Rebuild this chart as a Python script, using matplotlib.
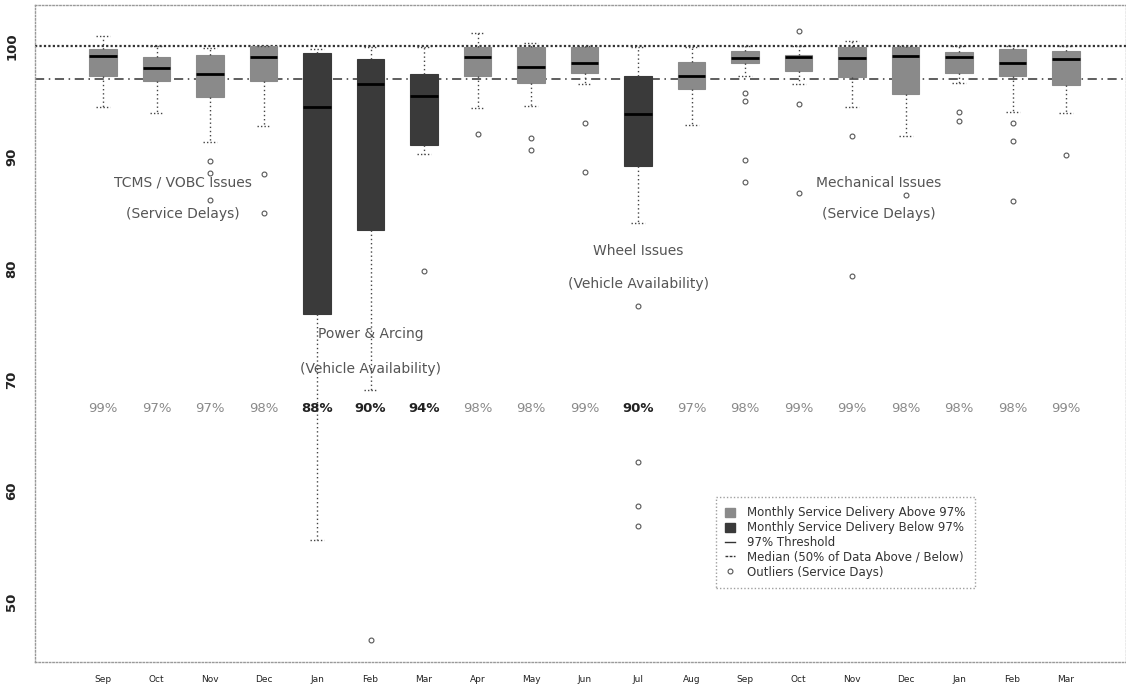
import matplotlib
matplotlib.use("Agg")
import matplotlib.pyplot as plt
from matplotlib.patches import Patch
from matplotlib.lines import Line2D

# Monthly service delivery distributions (% of scheduled service per day)
months = ["Sep", "Oct", "Nov", "Dec", "Jan", "Feb", "Mar", "Apr", "May", "Jun",
          "Jul", "Aug", "Sep", "Oct", "Nov", "Dec", "Jan", "Feb", "Mar"]
q1 = [97.3, 96.9, 95.4, 96.9, 75.9, 83.5, 91.1, 97.3, 96.7, 97.6,
      89.2, 96.1, 98.5, 97.8, 97.2, 95.7, 97.6, 97.3, 96.5]
median = [99.1, 98.0, 97.5, 99.0, 94.5, 96.6, 95.5, 99.0, 98.1, 98.5,
          93.9, 97.3, 98.9, 99.0, 98.9, 99.1, 99.0, 98.5, 98.8]
q3 = [99.7, 99.0, 99.2, 100.0, 99.4, 98.8, 97.5, 99.9, 99.9, 99.9,
      97.3, 98.6, 99.6, 99.2, 99.9, 99.9, 99.5, 99.7, 99.6]
whisker_low = [94.5, 94.0, 91.4, 92.8, 55.6, 69.1, 90.3, 94.4, 94.6, 96.6,
               84.1, 92.9, 97.3, 96.6, 94.5, 91.9, 96.7, 94.1, 94.0]
whisker_high = [100.9, 100.0, 99.8, 100.0, 99.7, 99.9, 99.9, 101.2, 100.3, 100.0,
                99.9, 99.9, 100.0, 100.0, 100.5, 100.0, 100.0, 100.0, 100.0]
outliers = [[], [], [89.7, 88.6, 86.2], [88.5, 85.0], [], [46.6], [79.8],
            [92.1], [91.7, 90.7], [93.1, 88.7], [76.6, 62.6, 58.6, 56.8], [],
            [95.8, 95.1, 89.8, 87.8], [101.4, 94.8, 86.8], [91.9, 79.3],
            [86.6], [94.1, 93.3], [93.1, 91.5, 86.1], [90.2]]
delivery_pct = [99, 97, 97, 98, 88, 90, 94, 98, 98, 99,
                90, 97, 98, 99, 99, 98, 98, 98, 99]
threshold = 97

light_fill = "#8a8a8a"
dark_fill = "#3a3a3a"

fig = plt.figure(figsize=(11.26, 6.90), dpi=100)
ax = fig.add_axes([35 / 1126, 28 / 690, 1091 / 1126, 657 / 690])

positions = list(range(1, len(months) + 1))
stats = []
for i in range(len(months)):
    stats.append(dict(med=median[i], q1=q1[i], q3=q3[i],
                      whislo=whisker_low[i], whishi=whisker_high[i],
                      fliers=outliers[i], label=months[i]))

parts = ax.bxp(stats, positions=positions, widths=0.52, patch_artist=True,
               showfliers=True,
               whiskerprops=dict(color="#444444", linestyle=(0, (1, 2)), linewidth=1.0),
               capprops=dict(color="#444444", linestyle=(0, (1, 1.5)), linewidth=1.0),
               medianprops=dict(color="black", linewidth=2.0),
               flierprops=dict(marker="o", markersize=3.5, markerfacecolor="none",
                               markeredgecolor="#555555", markeredgewidth=0.8))
for box, pct in zip(parts["boxes"], delivery_pct):
    fc = dark_fill if pct < threshold else light_fill
    box.set_facecolor(fc)
    box.set_edgecolor(fc)
    box.set_linewidth(0.8)

# Reference lines at 100% and at the 97% threshold
ax.axhline(100, color="#333333", linestyle=(0, (1, 1)), linewidth=1.6, zorder=1)
ax.axhline(threshold, color="#333333", linestyle=(0, (6, 3, 1, 3)), linewidth=1.1, zorder=1)

# Monthly delivery percentages
for x, pct in zip(positions, delivery_pct):
    below = pct < threshold
    ax.text(x, 67.4, f"{pct}%", ha="center", va="center", fontsize=9.5,
            color="#222222" if below else "#8a8a8a",
            fontweight="bold" if below else "normal")

# Incident annotations
note_color = "#555555"
note_size = 10
ax.text(2.5, 87.7, "TCMS / VOBC Issues", ha="center", va="center", fontsize=note_size, color=note_color)
ax.text(2.5, 84.9, "(Service Delays)", ha="center", va="center", fontsize=note_size, color=note_color)
ax.text(6.0, 74.1, "Power & Arcing", ha="center", va="center", fontsize=note_size, color=note_color)
ax.text(6.0, 71.0, "(Vehicle Availability)", ha="center", va="center", fontsize=note_size, color=note_color)
ax.text(11.0, 81.6, "Wheel Issues", ha="center", va="center", fontsize=note_size, color=note_color)
ax.text(11.0, 78.6, "(Vehicle Availability)", ha="center", va="center", fontsize=note_size, color=note_color)
ax.text(15.5, 87.7, "Mechanical Issues", ha="center", va="center", fontsize=note_size, color=note_color)
ax.text(15.5, 84.9, "(Service Delays)", ha="center", va="center", fontsize=note_size, color=note_color)

ax.set_xlim(-0.271, 20.12)
ax.set_ylim(44.6, 103.7)
ax.set_yticks([50, 60, 70, 80, 90, 100])
ax.set_yticklabels(["50", "60", "70", "80", "90", "100"], rotation=90, va="center",
                   fontsize=9.5, fontweight="bold", color="#222222")
ax.set_xticks(positions)
ax.set_xticklabels(months, fontsize=6.5, color="#222222")
ax.tick_params(axis="both", length=0)
ax.tick_params(axis="y", pad=12)
ax.tick_params(axis="x", pad=9)
for side, spine in ax.spines.items():
    spine.set_linestyle((0, (1, 1.5)))
    spine.set_color("#999999")
    spine.set_linewidth(1.0)

handles = [
    Patch(facecolor=light_fill, edgecolor=light_fill),
    Patch(facecolor=dark_fill, edgecolor=dark_fill),
    Line2D([], [], color="#333333", linestyle="-", linewidth=1.0),
    Line2D([], [], color="#333333", linestyle=(0, (2, 1)), linewidth=1.0),
    Line2D([], [], color="#555555", linestyle="none", marker="o", markersize=3.5,
           markerfacecolor="none", markeredgewidth=0.8),
]
labels = [
    "Monthly Service Delivery Above 97%",
    "Monthly Service Delivery Below 97%",
    "97% Threshold",
    "Median (50% of Data Above / Below)",
    "Outliers (Service Days)",
]
leg = ax.legend(handles, labels, loc="upper left",
                bbox_to_anchor=((716 - 35) / 1091, (662 - 497) / 657),
                prop=dict(size=8.5), frameon=True, fancybox=False, handlelength=0.8,
                handleheight=0.8, handletextpad=1.0, labelspacing=0.15,
                borderpad=0.8, borderaxespad=0, labelcolor="#333333")
frame = leg.get_frame()
frame.set_linestyle((0, (1, 1.5)))
frame.set_edgecolor("#888888")
frame.set_linewidth(1.0)

fig.savefig("out.png", dpi=100, facecolor="white")
